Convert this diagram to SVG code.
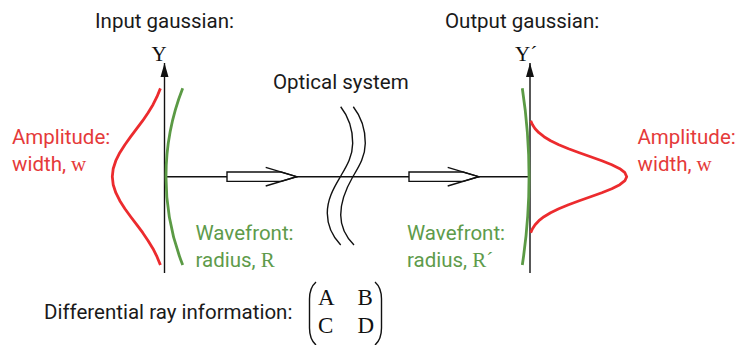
<svg xmlns="http://www.w3.org/2000/svg" width="740" height="345" viewBox="0 0 740 345">
<style>
.t{font-family:Roboto,"Liberation Sans",sans-serif;font-size:20.5px;fill:#1a1a1a}
.s{font-family:"Liberation Serif","Times New Roman",serif}
.red{fill:#e53a3a}
.grn{fill:#5e9b4b}
.rc{fill:none;stroke:#ec2b2e;stroke-width:2.8;stroke-linejoin:round;stroke-linecap:butt}
.gc{fill:none;stroke:#5b9a45;stroke-width:2.8}
.ln{fill:none;stroke:#111;stroke-width:1.4}
.ar{fill:#fff;stroke:#111;stroke-width:1.4;stroke-linejoin:miter}
</style>
<defs>
<marker id="ah" viewBox="-15 -5 16 10" markerWidth="16" markerHeight="10" refX="0" refY="0" orient="auto" markerUnits="userSpaceOnUse">
<path d="M0,0 L-14,-4 L-14,4 Z" fill="#111"/>
</marker>
<g id="hollow">
<path class="ar" d="M227,172 L281,172 L296.7,176.7 L281,181.4 L227,181.4 Z"/>
<polyline class="ln" points="265.7,167.3 296.7,176.7 265.7,186"/>
</g>
</defs>

<g id="connectors">
<line class="ln" x1="164.5" y1="176.7" x2="529" y2="176.7"/>
<use href="#hollow"/>
<use href="#hollow" transform="translate(182,0)"/>
</g>

<g id="input-gaussian">
<text class="t" x="95" y="28">Input gaussian:</text>
<line class="ln" x1="164.5" y1="273" x2="164.5" y2="63" marker-end="url(#ah)"/>
<text class="s" x="159" y="61" font-size="21" text-anchor="middle" fill="#111">Y</text>
<polyline class="rc" points="160.4,88.4 157.0,96.7 153.0,104.7 148.1,112.7 142.7,120.7 136.7,128.7 130.7,136.7 124.9,144.7 119.8,152.7 115.8,160.7 113.2,168.7 112.3,176.7 113.2,184.7 115.8,192.7 119.8,200.7 124.9,208.7 130.7,216.7 136.7,224.7 142.7,232.7 148.1,240.7 153.0,248.7 157.0,256.7 160.4,265.0"/>
<path class="gc" d="M182.7,88.3 A241.8,241.8 0 0 0 182.7,265"/>
<text class="t red" x="12" y="144">Amplitude:</text>
<text class="t red" x="12" y="171">width, <tspan class="s" font-size="21">w</tspan></text>
<text class="t grn" x="195.5" y="239.5">Wavefront:</text>
<text class="t grn" x="195.5" y="267">radius, <tspan class="s" font-size="21">R</tspan></text>
</g>

<g id="optical-system">
<text class="t" x="273" y="89">Optical system</text>
<path class="ln" d="M340.7,106.7 C348,116 352.8,129 352.7,143.3 C352.6,157 346,167 340,177.3 C333,189 327.2,200 327.3,213.3 C327.4,226 333,237 340.7,245"/>
<path class="ln" d="M353.3,106.7 C360.6,116 365.4,129 365.3,143.3 C365.2,157 358.6,167 352.7,177 C345.8,189 340.6,201 340.7,215 C340.8,227 346,237 354,245"/>
</g>

<g id="output-gaussian">
<text class="t" x="445" y="28">Output gaussian:</text>
<line class="ln" x1="530" y1="273" x2="530" y2="63" marker-end="url(#ah)"/>
<text class="s" x="515" y="61" font-size="21" fill="#111">Y´</text>
<path class="gc" d="M522.3,88.3 A585,585 0 0 1 522.3,265"/>
<polyline class="rc" points="530.7,120.7 532.5,124.7 535.1,128.7 538.9,132.7 544.0,136.7 550.6,140.7 558.8,144.7 568.5,148.7 579.3,152.7 590.6,156.7 601.8,160.7 611.8,164.7 619.8,168.7 624.9,172.7 626.7,176.7 624.9,180.7 619.8,184.7 611.8,188.7 601.8,192.7 590.6,196.7 579.3,200.7 568.5,204.7 558.8,208.7 550.6,212.7 544.0,216.7 538.9,220.7 535.1,224.7 532.5,228.7 530.7,232.7"/>
<text class="t red" x="637.5" y="144">Amplitude:</text>
<text class="t red" x="637.5" y="171">width, <tspan class="s" font-size="21">w</tspan></text>
<text class="t grn" x="407" y="239.5">Wavefront:</text>
<text class="t grn" x="407" y="267">radius, <tspan class="s" font-size="21">R´</tspan></text>
</g>

<g id="ray-information">
<text class="t" x="44" y="319">Differential ray information:</text>
<path class="ln" d="M316,282 C311.5,286 309.5,292 309.5,299 L309.5,328 C309.5,335 311.5,341 316,345"/>
<path class="ln" d="M375,282 C379.5,286 381.5,292 381.5,299 L381.5,328 C381.5,335 379.5,341 375,345"/>
<g class="s" font-size="23" fill="#111">
<text x="318" y="305">A</text>
<text x="357.5" y="305">B</text>
<text x="318" y="333">C</text>
<text x="357.5" y="333">D</text>
</g>
</g>
</svg>
